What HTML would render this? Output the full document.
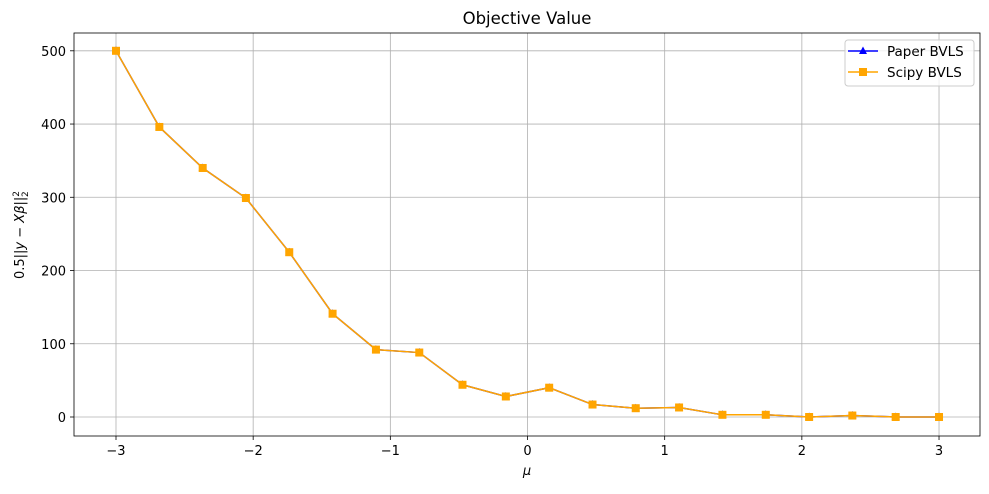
<!DOCTYPE html>
<html><head><meta charset="utf-8"><style>
body{margin:0;background:#fff;font-family:"DejaVu Sans","Liberation Sans",sans-serif;}
svg text{font-family:"DejaVu Sans","Liberation Sans",sans-serif;}
</style></head><body>
<svg id="chart" width="989" height="490" xmlns="http://www.w3.org/2000/svg"></svg>
<script>
const xTicks=[-3,-2,-1,0,1,2,3];
const yTicks=[0,100,200,300,400,500];
const muValues=[-3,-2.684,-2.368,-2.053,-1.737,-1.421,-1.105,-0.789,-0.474,-0.158,0.158,0.474,0.789,1.105,1.421,1.737,2.053,2.368,2.684,3];
const paperValues=[500,396,340,299,225,141,92,88,44,28,40,17,12,13,3,3,0,2,0,0];
const scipyValues=[500,396,340,299,225,141,92,88,44,28,40,17,12,13,3,3,0,2,0,0];
const L=74,R=980,T=33,B=436;
const xs=v=>116+(v+3)*137.17;
const ys=v=>417-v*0.7324;
const svg=document.getElementById('chart');
const NS='http://www.w3.org/2000/svg';
function mk(tag,attrs,parent){const e=document.createElementNS(NS,tag);for(const k in attrs)e.setAttribute(k,attrs[k]);(parent||svg).appendChild(e);return e;}
const grid=mk('g',{});


xTicks.forEach(t=>{
  mk('line',{x1:xs(t),x2:xs(t),y1:T,y2:B,stroke:'#b0b0b0','stroke-width':0.8},grid);
  mk('line',{x1:xs(t),x2:xs(t),y1:B,y2:B+4,stroke:'#000','stroke-width':0.8});
  const tx=mk('text',{x:xs(t),y:B+19,'text-anchor':'middle','font-size':13});
  tx.textContent=(t<0?'\u2212'+(-t):t);
  
  
});
yTicks.forEach(t=>{
  mk('line',{x1:L,x2:R,y1:ys(t),y2:ys(t),stroke:'#b0b0b0','stroke-width':0.8},grid);
  mk('line',{x1:L-4,x2:L,y1:ys(t),y2:ys(t),stroke:'#000','stroke-width':0.8});
  const tx=mk('text',{x:L-8,y:ys(t)+5,'text-anchor':'end','font-size':13});
  tx.textContent=t;
  
  
});
function series(vals,color,marker,name){
  const g=mk('g',{});
  
  
  mk('polyline',{points:vals.map((v,i)=>xs(muValues[i])+','+ys(v)).join(' '),fill:'none',stroke:color,'stroke-width':1.5},g);
  vals.forEach((v,i)=>{
    const x=xs(muValues[i]),y=ys(v);
    let m;
    if(marker==='tri') m=mk('polygon',{points:`${x},${y-4.5} ${x-4},${y+3} ${x+4},${y+3}`,fill:color},g);
    else m=mk('rect',{x:x-4,y:y-4,width:8,height:8,fill:color},g);
    
    
  });
}
series(paperValues,'#0000ff','tri','paper-bvls-series');
series(scipyValues,'#ffa500','sq','scipy-bvls-series');
const fr=mk('rect',{x:L,y:T,width:R-L,height:B-T,fill:'none',stroke:'#000','stroke-width':0.8});


const title=mk('text',{x:(L+R)/2,y:24,'text-anchor':'middle','font-size':16.5});
title.textContent='Objective Value';


const xl=mk('text',{x:(L+R)/2,y:475,'text-anchor':'middle','font-size':13,'font-style':'italic'});
xl.textContent='μ';


const yl=mk('text',{x:0,y:0,'text-anchor':'middle','font-size':13,transform:'translate(24,235) rotate(-90)'});
yl.innerHTML='0.5||<tspan font-style="italic">y</tspan> − <tspan font-style="italic">Xβ</tspan>||<tspan font-size="9" dy="-5">2</tspan><tspan font-size="9" dx="-6" dy="9">2</tspan>';


const lg=mk('g',{});


mk('rect',{x:845,y:40,width:129,height:46,rx:3,fill:'#fff','fill-opacity':0.8,stroke:'#ccc'},lg);
mk('line',{x1:848,x2:878,y1:51,y2:51,stroke:'#0000ff','stroke-width':1.5},lg);
mk('polygon',{points:'863,46.5 859,54 867,54',fill:'#0000ff'},lg);
const t1=mk('text',{x:887,y:56,'font-size':13.5},lg);t1.textContent='Paper BVLS';


mk('line',{x1:848,x2:878,y1:72,y2:72,stroke:'#ffa500','stroke-width':1.5},lg);
mk('rect',{x:859,y:68,width:8,height:8,fill:'#ffa500'},lg);
const t2=mk('text',{x:887,y:77,'font-size':13.5},lg);t2.textContent='Scipy BVLS';


</script>
</body></html>
